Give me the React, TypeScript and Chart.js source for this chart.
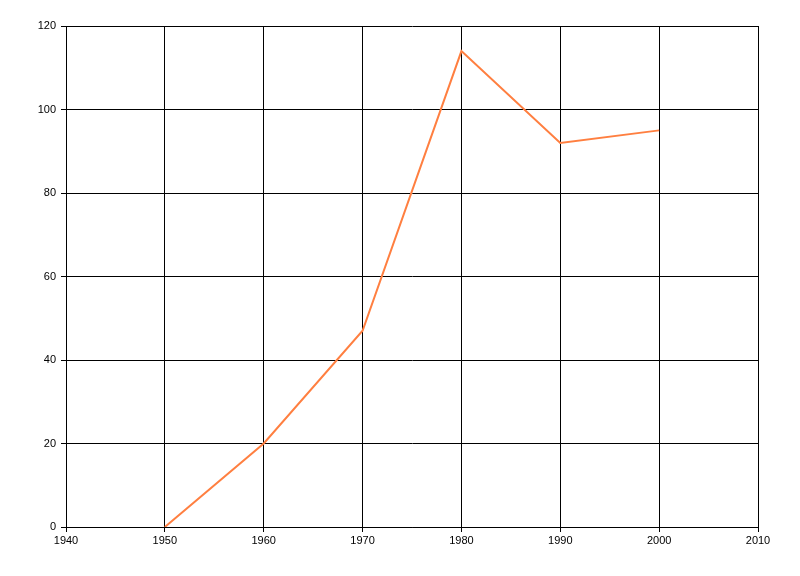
import React, { useEffect, useRef } from "react";
import { Chart, registerables } from "chart.js";

Chart.register(...registerables);

const years = [1950, 1960, 1970, 1980, 1990, 2000];
const values = [0, 20, 47, 114, 92, 95];
const xMin = 1940;
const xMax = 2010;
const xStep = 10;
const yMin = 0;
const yMax = 120;
const yStep = 20;

export default function App() {
  const ref = useRef<HTMLCanvasElement | null>(null);
  useEffect(() => {
    document.body.style.margin = "0";
    const ctx = ref.current!;
    const font = { family: "'Liberation Sans', Arial, sans-serif", size: 11 };
    const chart = new Chart(ctx, {
      type: "line",
      data: {
        datasets: [
          {
            data: years.map((y, i) => ({ x: y, y: values[i] })),
            borderColor: "#FF7F40",
            borderWidth: 2,
            pointRadius: 0,
            tension: 0,
            fill: false,
          },
        ],
      },
      options: {
        animation: false,
        responsive: false,
        maintainAspectRatio: false,
        devicePixelRatio: 1,
        layout: { padding: { left: 0, right: 42, top: 26, bottom: 19 } },
        plugins: { legend: { display: false }, tooltip: { enabled: false } },
        scales: {
          x: {
            type: "linear",
            min: xMin,
            max: xMax,
            ticks: {
              stepSize: xStep,
              color: "#000",
              font,
              padding: 2,
              maxRotation: 0,
              callback: (v: any) => String(v),
            },
            grid: { color: "#000", lineWidth: 1, tickLength: 5, drawTicks: true },
            border: { color: "#000", width: 1 },
            afterFit: (s: any) => {
              s.height = 30;
            },
          },
          y: {
            min: yMin,
            max: yMax,
            ticks: { stepSize: yStep, color: "#000", font, padding: 5 },
            grid: { color: "#000", lineWidth: 1, tickLength: 5, drawTicks: true },
            border: { color: "#000", width: 1 },
            afterFit: (s: any) => {
              s.width = 66;
            },
          },
        },
      },
    });
    return () => chart.destroy();
  }, []);
  return (
    <div style={{ position: "absolute", left: 0, top: 0, width: 800, height: 576, background: "#fff" }}>
      <canvas ref={ref} width={800} height={576} style={{ width: 800, height: 576 }} />
    </div>
  );
}
